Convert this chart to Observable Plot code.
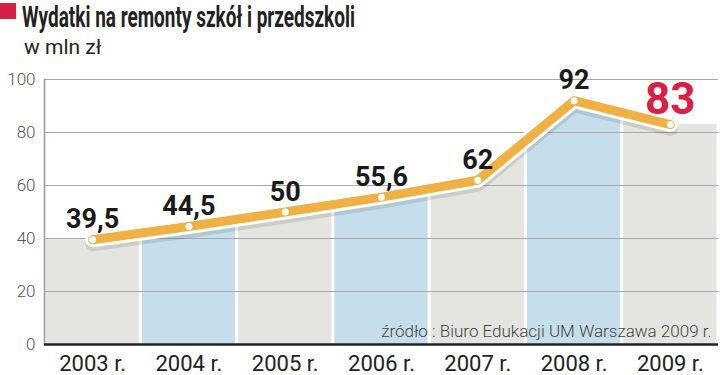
<!DOCTYPE html>
<html><head><meta charset="utf-8">
<script src="https://cdn.jsdelivr.net/npm/d3@7"></script>
<script src="https://cdn.jsdelivr.net/npm/@observablehq/plot@0.6"></script>
<style>
body{margin:0;background:#fff;font-family:Roboto, sans-serif;}
#wrap{position:relative;width:720px;height:375px}
#head{position:relative;height:60px}
.sq{position:absolute;left:0;top:3px;width:16px;height:16px;background:#d81f45}
#title{position:absolute;left:22px;top:0px;font-size:29px;line-height:normal;font-weight:700;color:#222;white-space:nowrap;transform-origin:0 0}
#sub{position:absolute;left:24px;top:37px;font-size:21px;line-height:21px;color:#222;white-space:nowrap}
svg{display:block}
</style></head>
<body>
<div id="wrap">
  <div id="head">
    <div class="sq"></div>
    <div id="title">Wydatki na remonty szkół i przedszkoli</div>
    <div id="sub">w mln zł</div>
  </div>
  <div id="chart"></div>
</div>
<script>
const years = ["2003", "2004", "2005", "2006", "2007", "2008", "2009"];
const values = [39.5, 44.5, 50, 55.6, 62, 92, 83];
const valueLabels = ["39,5", "44,5", "50", "55,6", "62", "92", "83"];
const yTicks = [0, 20, 40, 60, 80, 100];
const sourceText = "źródło : Biuro Edukacji UM Warszawa 2009 r.";

const data = years.map((y, i) => ({year: y, value: values[i], label: valueLabels[i], i}));
const normal = data.slice(0, -1);
const last = data.slice(-1);
const n = data.length;
// area outline: line extended flat to the outer band edges
const ext = [{i: -0.5, value: values[0]}, ...data, {i: n - 0.5, value: values[n - 1]}];

// scale title horizontally to condensed width
const t = document.getElementById("title");
const tw = t.getBoundingClientRect().width;
t.style.transform = `scaleX(${333 / tw})`;

const plot = Plot.plot({
  width: 720,
  height: 315,
  marginTop: 19,
  marginBottom: 31,
  marginLeft: 44,
  marginRight: 2,
  style: {fontFamily: "Roboto, sans-serif", background: "transparent"},
  x: {domain: [-0.5, n - 0.5], label: null},
  y: {domain: [0, 100], label: null},
  color: {type: "identity"},
  marks: [
    Plot.rectY(data, {x1: d => d.i - 0.5, x2: d => d.i + 0.5, y1: 0, y2: 100, fill: d => d.i % 2 ? "#c6deeb" : "#e4e4e0", insetLeft: 1.5, insetRight: 1.5}),
    Plot.areaY(ext, {x: "i", y1: "value", y2: 100, fill: "#fff"}),
    Plot.gridY(yTicks, {stroke: "#a8a8a8", strokeOpacity: 1, strokeWidth: 1}),
    Plot.frame({anchor: "left", stroke: "#9a9a9a", strokeWidth: 1.5}),
    Plot.ruleY([0], {stroke: "#222", strokeWidth: 2.5}),
    Plot.axisY(yTicks, {tickSize: 0, tickPadding: 9, fontSize: 17, fontWeight: 300, fill: "#555", label: null}),
    Plot.axisX(d3.range(n), {tickSize: 0, tickPadding: 11, fontSize: 22, fill: "#222", tickFormat: i => years[i] + " r.", label: null}),
    Plot.text([sourceText], {frameAnchor: "bottom-right", dx: -7, dy: -8, lineAnchor: "bottom", fontSize: 17, fontWeight: 300, fill: "#444"}),
    Plot.line(data, {x: "i", y: "value", stroke: "#000", strokeOpacity: 0.1, strokeWidth: 15, dy: 4, strokeLinejoin: "round", strokeLinecap: "round"}),
    Plot.line(data, {x: "i", y: "value", stroke: "#fff", strokeWidth: 15, strokeLinejoin: "round", strokeLinecap: "round"}),
    Plot.line(data, {x: "i", y: "value", stroke: "#f0b144", strokeWidth: 9, strokeLinejoin: "round", strokeLinecap: "round"}),
    Plot.dot(data, {x: "i", y: "value", r: 3.5, fill: "#fff", stroke: null}),
    Plot.text(normal, {x: "i", y: "value", text: "label", dy: -20, lineAnchor: "middle", fontSize: 27, fontWeight: 700, fill: "#1a1a1a"}),
    Plot.text(last, {x: "i", y: "value", text: "label", dy: -25, lineAnchor: "middle", fontSize: 44, fontWeight: 700, fill: "#d81f45"})
  ]
});
document.getElementById("chart").appendChild(plot);
</script>
</body></html>
